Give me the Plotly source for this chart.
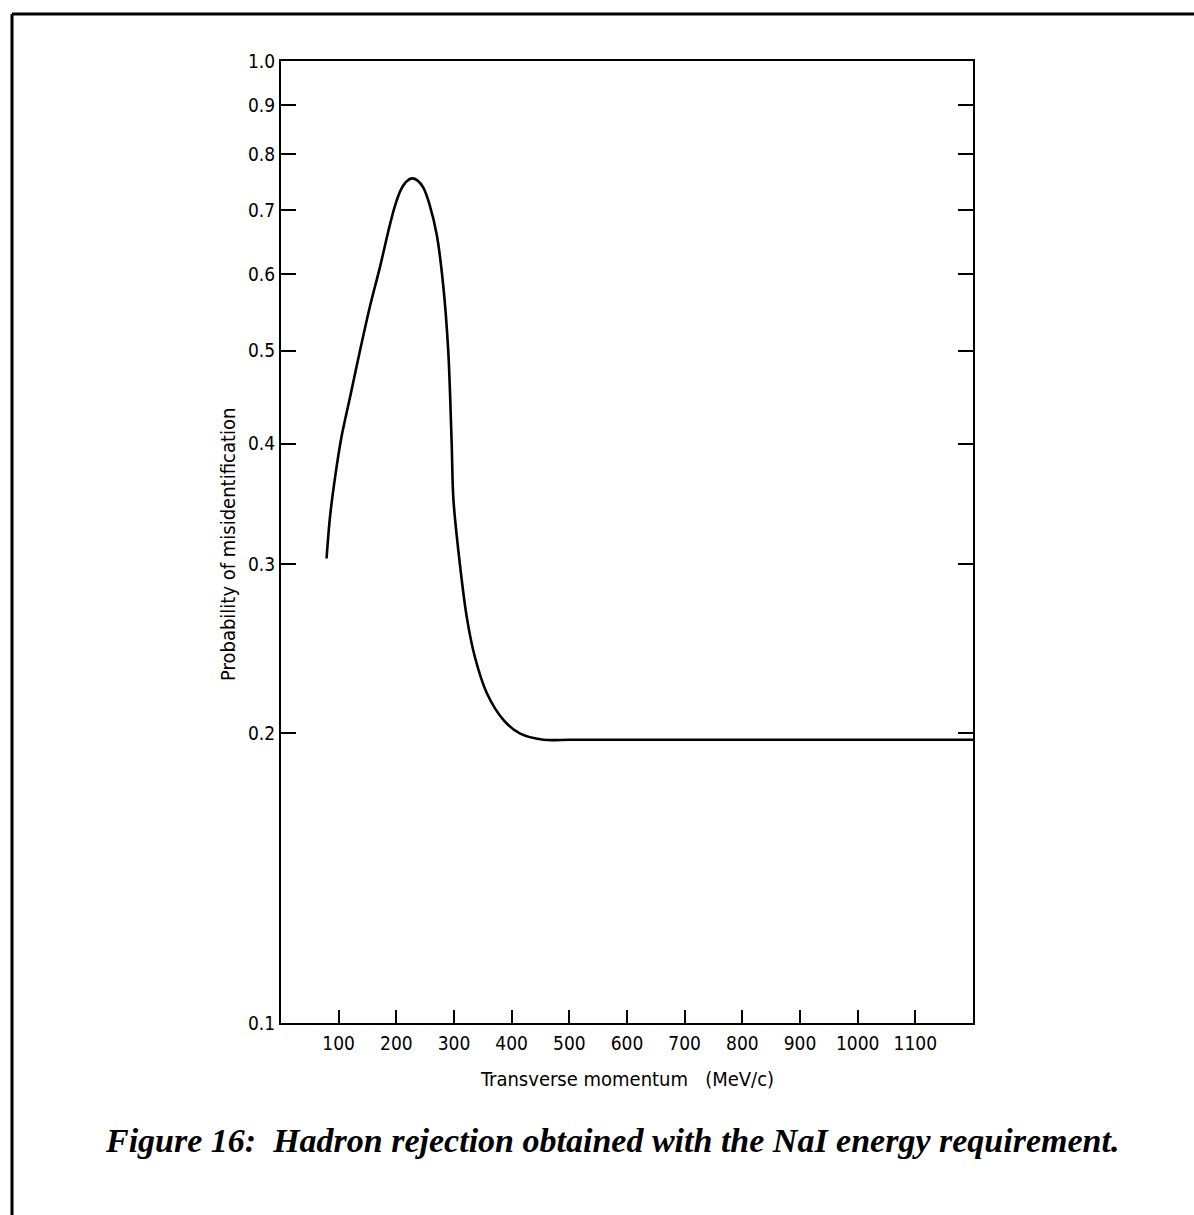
import plotly.graph_objects as go

# Data
momentum = [79, 85, 94, 105, 120, 137, 154, 172, 186, 197, 208, 218, 227, 237, 247, 258, 270, 281,
            290, 296, 299, 310, 322, 336, 357, 386, 414, 455, 500, 560, 700, 900, 1200]
probability = [0.304, 0.336, 0.370, 0.407, 0.448, 0.500, 0.555, 0.612, 0.665, 0.705, 0.735,
               0.750, 0.755, 0.751, 0.738, 0.708, 0.660, 0.587, 0.500, 0.400, 0.350, 0.3006,
               0.2645, 0.2404, 0.2202, 0.2065, 0.200, 0.197, 0.197, 0.197, 0.197, 0.197, 0.197]

x_ticks = [100, 200, 300, 400, 500, 600, 700, 800, 900, 1000, 1100]
y_ticks = [0.1, 0.2, 0.3, 0.4, 0.5, 0.6, 0.7, 0.8, 0.9, 1.0]
y_tick_labels = ["0.1", "0.2", "0.3", "0.4", "0.5", "0.6", "0.7", "0.8", "0.9", "1.0"]

x_title = "Transverse momentum\u00a0\u00a0\u00a0(MeV/c)"
y_title = "Probability of misidentification"
caption = "Figure 16:\u00a0 Hadron rejection obtained with the NaI energy requirement."

W, H = 1194, 1215
L, R, T, B = 281, 221, 61, 192
PW, PH = W - L - R, H - T - B


def px(xp):
    return (xp - L) / PW


def py(yp):
    return (H - B - yp) / PH


tick_font = dict(family="DejaVu Sans Condensed, sans-serif", size=19, color="black")
title_font = dict(family="DejaVu Sans Condensed, sans-serif", size=20, color="black")

fig = go.Figure()
fig.add_trace(go.Scatter(
    x=momentum, y=probability, mode="lines",
    line=dict(color="black", width=2.6, shape="spline", smoothing=0.9),
    showlegend=False, hoverinfo="skip",
))

fig.update_layout(
    width=W, height=H,
    margin=dict(l=L, r=R, t=T, b=B),
    paper_bgcolor="white", plot_bgcolor="white",
    xaxis=dict(
        range=[0, 1200], tickvals=x_ticks, ticks="inside", ticklen=13, tickwidth=2,
        tickcolor="black", showline=True, linecolor="black", linewidth=2.2, mirror=True,
        showgrid=False, zeroline=False, tickfont=tick_font, ticklabelstandoff=2,
    ),
    yaxis=dict(
        type="log", range=[-1, 0], tickvals=y_ticks, ticktext=y_tick_labels,
        ticks="inside", ticklen=15, tickwidth=2, tickcolor="black",
        showline=True, linecolor="black", linewidth=2.2, mirror="ticks",
        showgrid=False, zeroline=False, tickfont=tick_font, ticklabelstandoff=0,
    ),
    annotations=[
        dict(text=x_title, x=px(627), y=py(1079), xref="paper", yref="paper",
             showarrow=False, xanchor="center", yanchor="middle", font=title_font),
        dict(text=y_title, x=px(228), y=py(545), xref="paper", yref="paper",
             showarrow=False, xanchor="center", yanchor="middle", textangle=-90,
             font=title_font),
        dict(text="<i><b>" + caption + "</b></i>", x=px(612), y=py(1140), xref="paper", yref="paper",
             showarrow=False, xanchor="center", yanchor="middle",
             font=dict(family="Liberation Serif, serif", size=34, color="black")),
    ],
    shapes=[
        dict(type="line", xref="paper", yref="paper", x0=px(12), y0=py(14), x1=px(1196), y1=py(14),
             line=dict(color="black", width=3)),
        dict(type="line", xref="paper", yref="paper", x0=px(12), y0=py(14), x1=px(12), y1=py(1217),
             line=dict(color="black", width=3)),
    ],
)

fig.write_html("out.html")
